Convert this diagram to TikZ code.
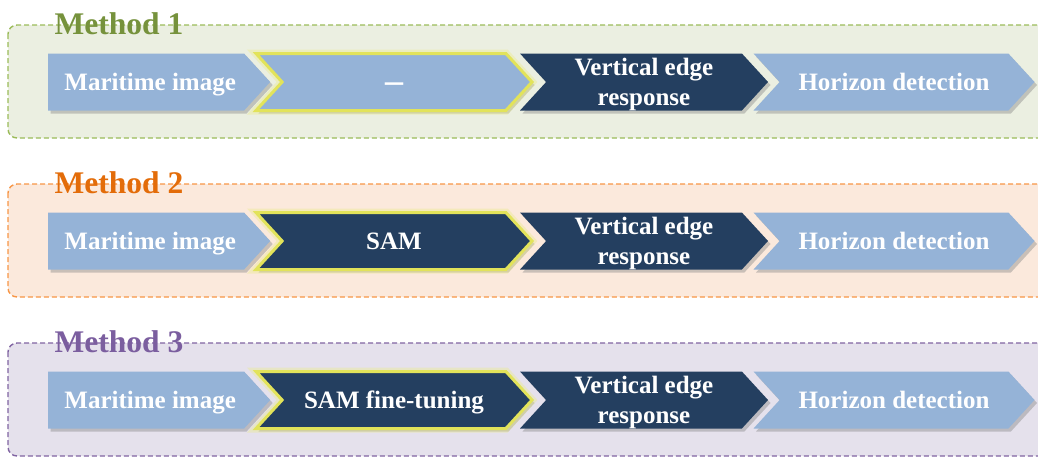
\documentclass[tikz,border=0pt]{standalone}
\usepackage{fontspec}
\setmainfont{Liberation Serif}
\usetikzlibrary{shapes.symbols,shadows}

\definecolor{boxblue}{HTML}{95B3D7}
\definecolor{boxnavy}{HTML}{243F60}
\definecolor{glow}{HTML}{E2E35A}
\definecolor{edgeA}{HTML}{9BBB59}
\definecolor{backA}{HTML}{EBEFE1}
\definecolor{inkA}{HTML}{76923C}
\definecolor{edgeB}{HTML}{F79646}
\definecolor{backB}{HTML}{FBE9DC}
\definecolor{inkB}{HTML}{E36C09}
\definecolor{edgeC}{HTML}{8064A2}
\definecolor{backC}{HTML}{E5E1EC}
\definecolor{inkC}{HTML}{7B5E9F}

\tikzset{
  panel/.style={dash pattern=on 5pt off 3pt, line width=1.4pt, rounded corners=9pt},
  title/.style={font=\bfseries\fontsize{31.5}{36}\selectfont, inner sep=0pt},
  stepbox/.style={signal, signal to=east, signal pointer angle=95,
    minimum height=57pt, inner sep=0pt, text=white, align=center, text depth=0pt,
    font=\bfseries\fontsize{25}{30}\selectfont,
    drop shadow={shadow xshift=2.5pt, shadow yshift=-3pt, opacity=0.4}},
  firstbox/.style={stepbox, signal from=nowhere, anchor=west},
  midbox/.style={stepbox, signal from=west},
  lightfill/.style={fill=boxblue},
  darkfill/.style={fill=boxnavy},
  chosen/.style={draw=glow, line width=3pt,
    preaction={draw=glow!70, line width=8pt, opacity=0.4}}
}

\begin{document}
\begin{tikzpicture}[x=1pt,y=-1pt]
  \useasboundingbox (0,0) rectangle (1038,459);
  \clip (0,0) rectangle (1038,459);

  % one dashed panel per method, four steps in each
  \foreach \row/\yc/\hue/\mid/\midfill in {1/82/A/{\raisebox{-10pt}{\fontsize{36}{36}\selectfont --}}/boxblue,
      2/241/B/SAM/boxnavy, 3/400/C/SAM fine-tuning/boxnavy} {
    \draw[panel, draw=edge\hue, fill=back\hue] (8,\yc-57) rectangle (1060,\yc+56);
    \node[title, text=ink\hue] (title\row) at (119,\yc-58) {Method \row};

    \node[firstbox, lightfill, minimum width=222pt] (image\row) at (48,\yc) {\hspace*{8pt}Maritime image};
    \node[midbox, fill=\midfill, chosen, minimum width=276pt] (seg\row) at (394,\yc) {\mid};
    \node[midbox, darkfill, minimum width=248pt] (edge\row) at (644,\yc) {Vertical edge\\response};
    \node[midbox, lightfill, minimum width=281pt] (horizon\row) at (894,\yc) {Horizon detection};
  }
\end{tikzpicture}
\end{document}
